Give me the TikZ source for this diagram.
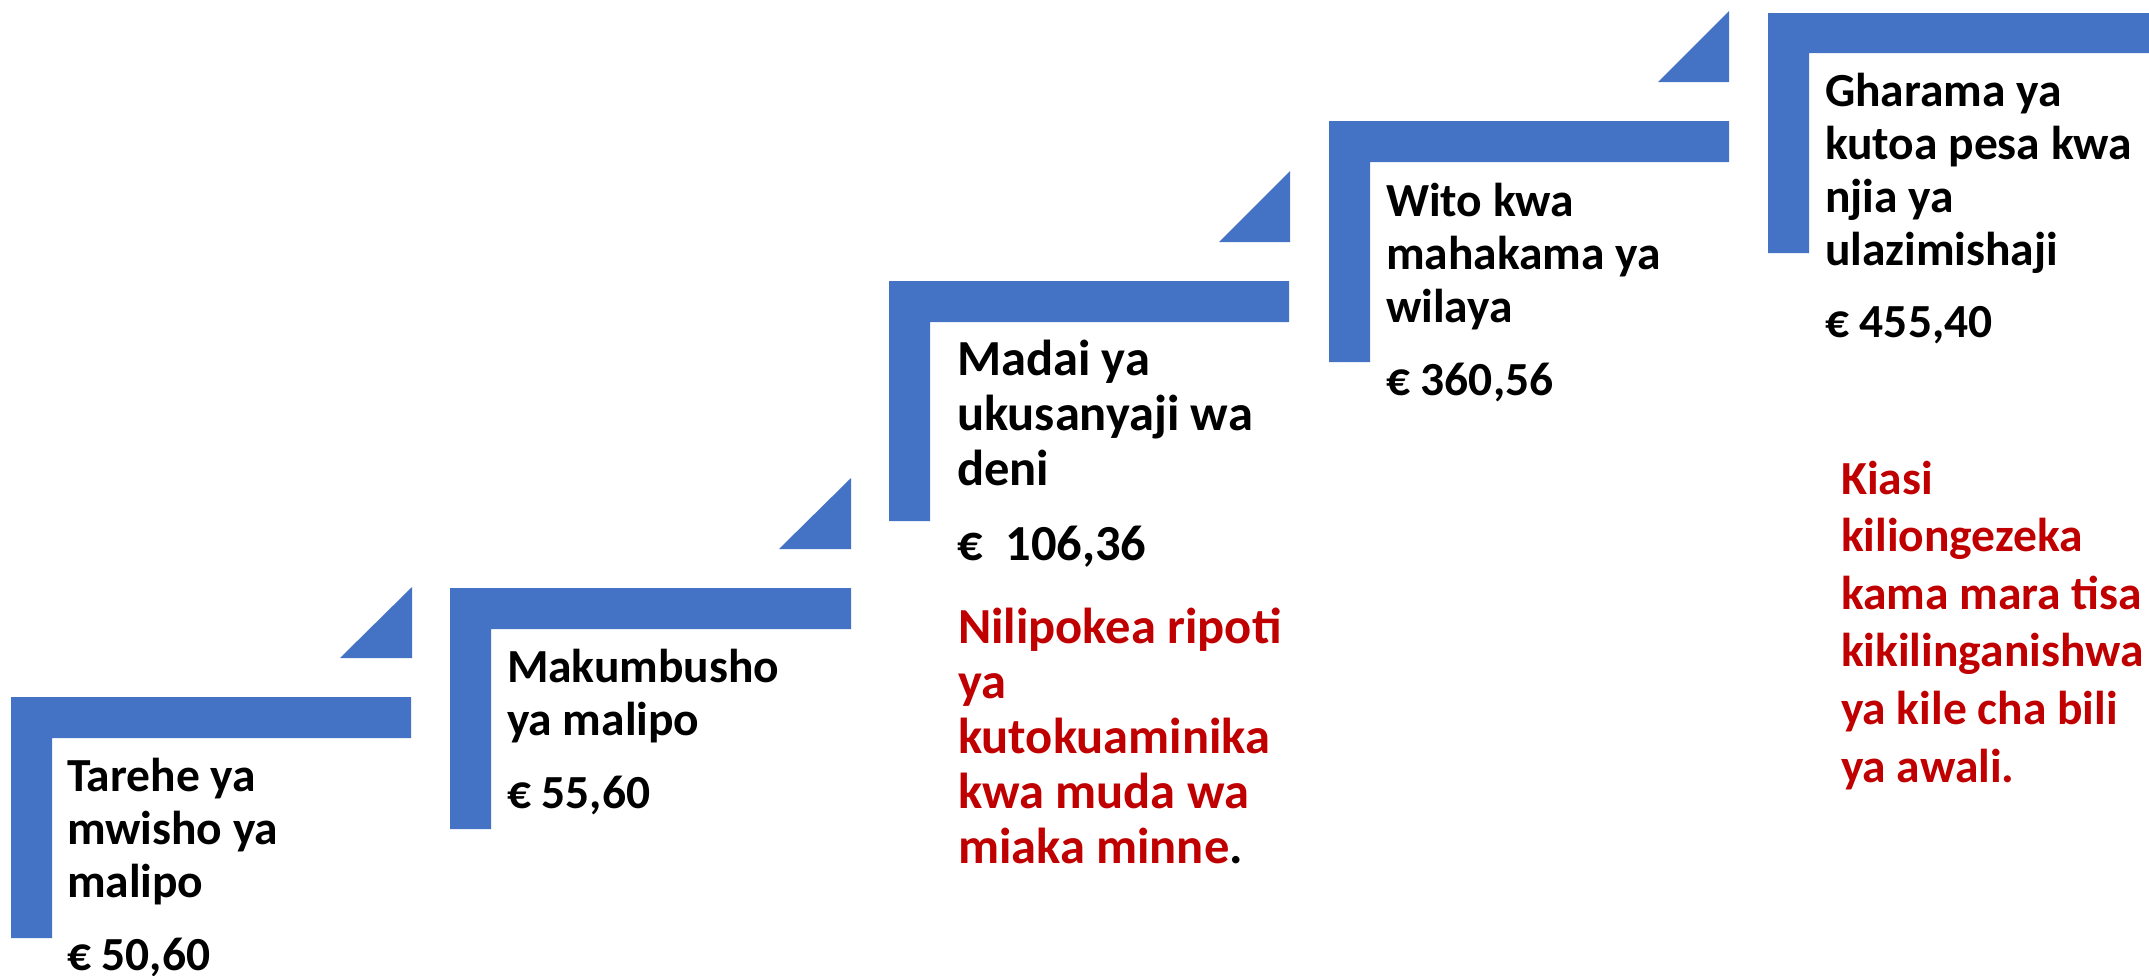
\documentclass[tikz,border=0pt]{standalone}
\usepackage{fontspec}
\setmainfont{Carlito}
\definecolor{ofblue}{HTML}{4472C4}
\definecolor{ofred}{HTML}{C00000}
\begin{document}
\begin{tikzpicture}[x=1bp,y=-1bp,
  stair/.style={fill=ofblue,draw=none},
  lbl/.style={inner sep=0pt,outer sep=0pt,anchor=base west,align=left,
    font=\bfseries\fontsize{47.5bp}{53bp}\selectfont},
  big/.style={font=\bfseries\fontsize{50.5bp}{55bp}\selectfont},
  note/.style={lbl,text=ofred}]
\useasboundingbox (0,0) rectangle (2149,976);
% L shapes
\path[stair] (11,697) -- (411,697) -- (411,738) -- (52,738) -- (52,938) -- (11,938) -- cycle;
\path[stair] (450,588) -- (851,588) -- (851,629) -- (491,629) -- (491,829) -- (450,829) -- cycle;
\path[stair] (889,281) -- (1289,281) -- (1289,322) -- (930,322) -- (930,521) -- (889,521) -- cycle;
\path[stair] (1329,121) -- (1729,121) -- (1729,162) -- (1370,162) -- (1370,362) -- (1329,362) -- cycle;
\path[stair] (1768,13) -- (2149,13) -- (2149,53) -- (1809,53) -- (1809,253) -- (1768,253) -- cycle;
% triangles
\path[stair] (340,658) -- (412,658) -- (412,587) -- cycle;
\path[stair] (779,549) -- (851,549) -- (851,478) -- cycle;
\path[stair] (1219,242) -- (1290,242) -- (1290,171) -- cycle;
\path[stair] (1658,82) -- (1729,82) -- (1729,11) -- cycle;
% texts (anchored at the baseline of the last line)
\node[lbl] (s1) at (67,970) {Tarehe ya\\mwisho ya\\malipo\\[20bp]€ 50,60};
\node[lbl] (s2) at (507,808) {Makumbusho\\ya malipo\\[20bp]€ 55,60};
\node[lbl,big] (s3) at (957,560) {Madai ya\\ukusanyaji wa\\deni\\[20bp]€\ \ 106,36};
\node[note,big] (n3) at (958,863) {Nilipokea ripoti\\ya\\kutokuaminika\\kwa muda wa\\miaka minne\textcolor{black}{.}};
\node[lbl] (s4) at (1386,395) {Wito kwa\\mahakama ya\\wilaya\\[20bp]€ 360,56};
\node[lbl] (s5) at (1825,337) {Gharama ya\\kutoa pesa kwa\\njia ya\\ulazimishaji\\[19bp]€ 455,40};
\node[note,font=\bfseries\fontsize{47.5bp}{57.6bp}\selectfont] (n5) at (1841,782) {Kiasi\\kiliongezeka\\kama mara tisa\\kikilinganishwa\\ya kile cha bili\\ya awali.};
\end{tikzpicture}
\end{document}
